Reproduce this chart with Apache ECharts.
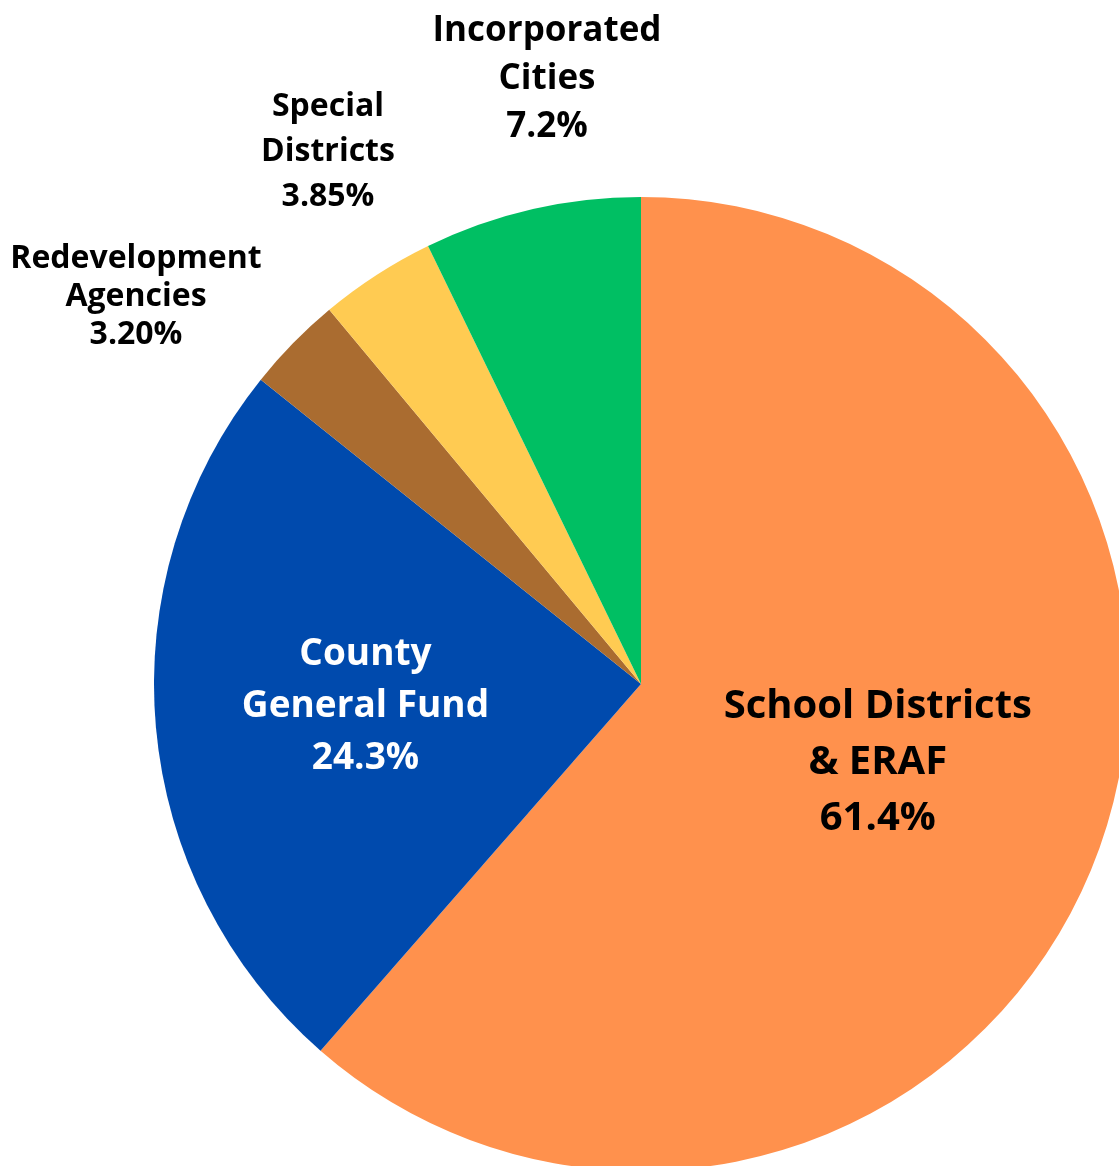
<!DOCTYPE html>
<html>
<head>
<meta charset="utf-8">
<script src="https://cdn.jsdelivr.net/npm/echarts@6/dist/echarts.min.js"></script>
<style>
html,body{margin:0;padding:0;background:#fff;}
#chart{width:1119px;height:1166px;}
</style>
</head>
<body>
<div id="chart"></div>
<script>
// ---- data ----
const categories = ['School Districts & ERAF', 'County General Fund', 'Redevelopment Agencies', 'Special Districts', 'Incorporated Cities'];
const labelNames = ['School Districts\n& ERAF', 'County\nGeneral Fund', 'Redevelopment\nAgencies', 'Special\nDistricts', 'Incorporated\nCities'];
const values = [61.4, 24.3, 3.20, 3.85, 7.2];
const percentLabels = ['61.4%', '24.3%', '3.20%', '3.85%', '7.2%'];

// ---- styles ----
const colors = ['#FF914D', '#004AAD', '#AA6C30', '#FFCB52', '#00BF63'];
const labelStyles = [
  {position:'inside', color:'#000', fontSize:40, lineHeight:56, offset:[6,-8]},
  {position:'inside', color:'#fff', fontSize:37, lineHeight:52, offset:[-30,1]},
  {position:'outside', color:'#000', fontSize:32, lineHeight:38},
  {position:'outside', color:'#000', fontSize:32, lineHeight:45},
  {position:'outside', color:'#000', fontSize:35, lineHeight:48}
];
const outsidePos = {2:[136,297], 3:[328,152], 4:[547,79]};

const chart = echarts.init(document.getElementById('chart'), null, {renderer:'canvas'});
chart.setOption({
  animation:false,
  series:[{
    type:'pie',
    center:[641,684],
    radius:487,
    startAngle:90,
    clockwise:true,
    avoidLabelOverlap:false,
    labelLine:{show:false},
    emphasis:{disabled:true},
    data: categories.map((c,i)=>({
      name:c,
      value:values[i],
      itemStyle:{color:colors[i]},
      label:Object.assign({
        show:true,
        fontFamily:'"Open Sans", sans-serif',
        fontWeight:'bold',
        align:'center',
        formatter: labelNames[i] + '\n' + percentLabels[i]
      }, labelStyles[i]),
      labelLine:{show:false}
    })),
    labelLayout:function(p){
      const pos = outsidePos[p.dataIndex];
      if(pos) return {x:pos[0], y:pos[1], align:'center', verticalAlign:'middle'};
      return {};
    }
  }]
});
</script>
</body>
</html>
